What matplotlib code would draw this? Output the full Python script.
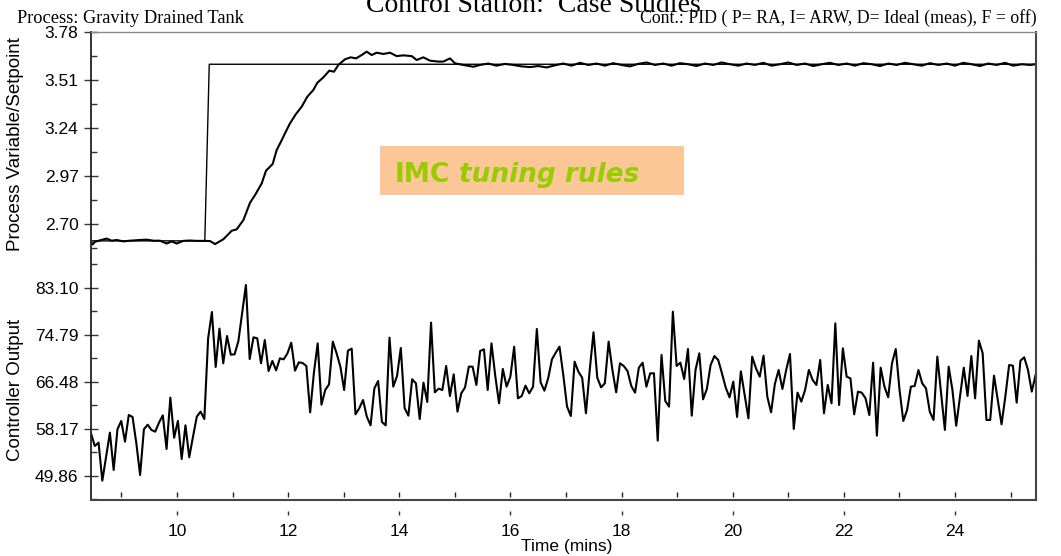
import matplotlib
matplotlib.use('Agg')
import numpy as np
import matplotlib.pyplot as plt
from matplotlib.patches import Rectangle
from matplotlib.text import Annotation

# setpoint (mins, level)
sp_t = [8.452, 10.50, 10.58, 25.458]
sp = [2.605, 2.605, 3.60, 3.60]

# process variable
pv_t = [8.452, 8.482, 8.524, 8.614, 8.734, 8.824, 8.914, 9.034, 9.154, 9.334,
        9.454, 9.574, 9.694, 9.814, 9.904, 9.994, 10.114, 10.234, 10.354, 10.474,
        10.594, 10.684, 10.834, 10.984, 11.074, 11.194, 11.314, 11.404, 11.524, 11.601,
        11.721, 11.794, 11.871, 11.943, 12.033, 12.141, 12.244, 12.344, 12.453, 12.525,
        12.633, 12.741, 12.825, 12.903, 13.023, 13.125, 13.221, 13.323, 13.413, 13.503,
        13.593, 13.713, 13.833, 13.953, 14.073, 14.223, 14.313, 14.433, 14.553, 14.703,
        14.793, 14.913, 15.003, 15.153, 15.333, 15.452,
        15.60, 15.75, 15.90, 16.05, 16.20, 16.35, 16.50, 16.65, 16.80, 16.95,
        17.10, 17.25, 17.40, 17.55, 17.70, 17.85, 18.00, 18.15, 18.30, 18.45,
        18.60, 18.75, 18.90, 19.05, 19.20, 19.35, 19.50, 19.65, 19.80, 19.95,
        20.10, 20.25, 20.40, 20.55, 20.70, 20.85, 21.00, 21.15, 21.30, 21.45,
        21.60, 21.75, 21.90, 22.05, 22.20, 22.35, 22.50, 22.65, 22.80, 22.95,
        23.10, 23.25, 23.40, 23.55, 23.70, 23.85, 24.00, 24.15, 24.30, 24.45,
        24.60, 24.75, 24.90, 25.05, 25.20, 25.35, 25.45]
pv = [2.600, 2.585, 2.600, 2.608, 2.618, 2.606, 2.610, 2.602, 2.606, 2.610,
      2.612, 2.606, 2.606, 2.590, 2.602, 2.590, 2.605, 2.607, 2.605, 2.605,
      2.604, 2.587, 2.614, 2.662, 2.670, 2.722, 2.820, 2.863, 2.929, 3.000,
      3.038, 3.117, 3.164, 3.211, 3.267, 3.320, 3.361, 3.417, 3.455, 3.496,
      3.526, 3.564, 3.558, 3.596, 3.628, 3.639, 3.633, 3.652, 3.671, 3.652,
      3.665, 3.658, 3.665, 3.646, 3.650, 3.646, 3.624, 3.639, 3.620, 3.615,
      3.615, 3.633, 3.605, 3.596, 3.586, 3.596,
      3.604, 3.592, 3.602, 3.596, 3.588, 3.584, 3.590, 3.582, 3.594, 3.604,
      3.592, 3.608, 3.596, 3.604, 3.592, 3.606, 3.596, 3.588, 3.602, 3.610,
      3.596, 3.604, 3.592, 3.606, 3.600, 3.590, 3.604, 3.596, 3.610, 3.600,
      3.592, 3.604, 3.596, 3.608, 3.592, 3.600, 3.610, 3.596, 3.604, 3.590,
      3.600, 3.608, 3.596, 3.604, 3.592, 3.606, 3.600, 3.590, 3.604, 3.596,
      3.608, 3.600, 3.592, 3.606, 3.596, 3.604, 3.592, 3.608, 3.600, 3.590,
      3.604, 3.596, 3.608, 3.592, 3.600, 3.596, 3.600]

# controller output, one value per sample
co = [57.35, 55.11, 55.70, 48.98, 53.22, 57.47, 50.87, 58.06, 59.53, 55.88,
      60.59, 60.24, 55.58, 49.98, 58.06, 58.88, 57.94, 57.64, 59.24, 60.53,
      54.58, 63.66, 56.58, 59.53, 52.81, 58.76, 53.11, 56.76, 60.30, 61.18,
      59.88, 74.15, 78.80, 69.08, 75.86, 69.73, 74.56, 71.26, 71.32, 73.62,
      78.57, 83.58, 70.49, 74.32, 74.15, 69.73, 73.85, 68.37, 70.14, 68.49,
      70.61, 70.43, 71.50, 73.38, 68.43, 69.90, 69.79, 69.26, 61.06, 68.08,
      73.26, 62.42, 65.01,
      66.01, 73.56, 71.50, 69.14, 65.01, 71.97, 72.32, 60.71, 61.77, 63.24,
      60.30, 58.76, 65.31, 66.60, 59.35, 58.76, 74.27, 65.60, 67.49, 72.44,
      61.83, 60.47, 66.90, 66.19, 59.88, 66.31, 62.89, 76.92, 64.60, 65.25,
      65.01, 69.26, 63.95, 67.78, 61.18, 64.42, 65.48, 69.14, 69.14, 65.90,
      71.91, 72.20, 65.01, 73.26, 67.49, 62.65, 68.73, 65.60, 67.37, 72.67,
      63.54, 63.95, 65.78, 64.42, 65.60, 75.80, 66.37, 64.89, 67.07, 70.43,
      71.61, 72.67, 67.66,
      62.07, 60.41, 70.02, 68.25, 67.19, 60.89, 68.55, 75.21, 67.19, 65.48,
      66.19, 73.56, 68.55, 64.60, 69.73, 69.26, 68.37, 65.72, 64.54, 68.96,
      69.84, 65.60, 67.96, 67.96, 56.05, 71.20, 63.07, 62.07, 78.86, 69.26,
      69.84, 66.96, 72.26, 60.47, 68.55, 71.50, 63.36, 65.19, 69.43, 71.02,
      70.32, 67.96, 65.42, 63.72, 66.49, 60.24, 68.31, 64.13, 60.00, 70.91,
      68.84, 67.37, 71.08, 63.83, 61.06, 66.07, 68.55, 65.19, 68.55, 71.38,
      58.12, 64.54,
      62.95, 65.01, 68.55, 66.78, 65.90, 70.32, 60.89, 65.90, 62.65, 76.80,
      62.36, 72.38, 67.37, 67.07, 60.71, 64.72, 64.54, 63.54, 60.59, 69.84,
      56.94, 68.96, 65.60, 63.72, 69.73, 72.26, 65.01, 59.53, 61.48, 65.60,
      65.72, 68.55, 66.19, 65.31, 61.18, 59.71, 70.91, 64.42, 57.94, 69.14,
      65.01, 58.70, 63.83, 68.96, 63.95, 71.02, 63.54, 73.74, 71.50, 59.71,
      59.71, 67.55, 63.24, 58.94, 63.83, 69.43, 69.31, 62.77, 70.20, 70.79,
      68.55, 64.72, 67.66]
co_start, co_end = 8.452, 25.45
co_t = np.linspace(co_start, co_end, len(co))

pv_ticks = [2.70, 2.97, 3.24, 3.51, 3.78]
co_ticks = [49.86, 58.17, 66.48, 74.79, 83.10]
time_ticks = [10, 12, 14, 16, 18, 20, 22, 24]

W, H = 1061, 556
def fx(px):
    return px / W
def fy(py):
    return 1 - py / H

sans = 'Liberation Sans'
serif = 'Liberation Serif'
plt.rcParams['font.family'] = sans

fig = plt.figure(figsize=(W / 100, H / 100), dpi=100)
ax_pv = fig.add_axes([fx(91), fy(258), fx(1036) - fx(91), fy(32.3) - fy(258)])
ax_co = fig.add_axes([fx(91), fy(500), fx(1036) - fx(91), fy(258) - fy(500)])

ax_pv.plot(sp_t, sp, color='black', lw=1.0)
ax_pv.plot(pv_t, pv, color='black', lw=1.5)
ax_co.plot(co_t, co, color='black', lw=1.5)

for ax in (ax_pv, ax_co):
    ax.set_xlim(8.452, 25.458)
    ax.spines['left'].set_color('#222222')
    ax.spines['right'].set_color('#4a4444')
    ax.spines['left'].set_linewidth(1.3)
    ax.spines['right'].set_linewidth(1.5)
    ax.tick_params(axis='y', which='major', direction='inout', length=10,
                   width=1, color='#333333', labelsize=12.5, pad=4)
    ax.tick_params(axis='y', which='minor', direction='in', length=4,
                   width=1, color='#333333')

ax_pv.set_ylim(2.5085, 3.78)
ax_pv.set_yticks(pv_ticks)
ax_pv.set_yticklabels(['%.2f' % v for v in pv_ticks])
ax_pv.set_yticks([2.565, 2.835, 3.105, 3.375, 3.645], minor=True)
ax_pv.spines['bottom'].set_visible(False)
ax_pv.spines['top'].set_color('#8a8a8a')
ax_pv.spines['top'].set_linewidth(1.0)
ax_pv.set_xticks([])

ax_co.set_ylim(45.56, 88.35)
ax_co.set_yticks(co_ticks)
ax_co.set_yticklabels(['%.2f' % v for v in co_ticks])
ax_co.set_yticks([45.705, 54.015, 62.325, 70.635, 78.945, 87.255], minor=True)
ax_co.spines['top'].set_visible(False)
ax_co.spines['bottom'].set_color('#4a4444')
ax_co.spines['bottom'].set_linewidth(1.5)
ax_co.set_xticks(time_ticks)
ax_co.set_xticklabels([str(v) for v in time_ticks])
ax_co.tick_params(axis='x', length=0, labelsize=12.5, pad=17)

# inner tick marks every minute and the small dashes under the axis
xt = ax_co.get_xaxis_transform()
ax_co.vlines(range(9, 26), 0.0136, 0.0343, transform=xt, colors='#222222', lw=1)
ax_co.vlines(time_ticks, -0.062, -0.044, transform=xt, colors='#333333', lw=1,
             clip_on=False)

fig.text(fx(567), fy(546), 'Time (mins)', ha='center', va='center', fontsize=12.5)
fig.text(fx(16), fy(144), 'Process Variable/Setpoint', rotation=90,
         ha='center', va='center', fontsize=13.5)
fig.text(fx(16), fy(390), 'Controller Output', rotation=90,
         ha='center', va='center', fontsize=13.5)

fig.text(fx(533), fy(12), 'Control Station:  Case Studies', ha='center',
         va='baseline', fontsize=20, family=serif)
fig.text(fx(17), fy(22.7), 'Process: Gravity Drained Tank', va='baseline',
         fontsize=13.2, family=serif)
fig.text(fx(1037), fy(22.7), 'Cont.: PID ( P= RA, I= ARW, D= Ideal (meas), F = off)',
         ha='right', va='baseline', fontsize=12.8, family=serif)

# annotation box
fig.add_artist(Rectangle((fx(380), fy(195)), fx(684) - fx(380), fy(146) - fy(195),
                         transform=fig.transFigure, facecolor='#FBC796',
                         edgecolor='none', zorder=2))
green = '#99CC00'
t1 = fig.text(fx(395), fy(182), 'IMC', fontsize=19, fontweight='bold',
              color=green, family='DejaVu Sans', va='baseline', zorder=3)
t2 = Annotation('tuning rules', xy=(1, 0), xycoords=t1, xytext=(6, 0),
                textcoords='offset points', fontsize=19, fontweight='bold',
                fontstyle='italic', color=green, family='DejaVu Sans',
                va='bottom', zorder=3)
fig.add_artist(t2)

plt.savefig('out.png', format='png')
